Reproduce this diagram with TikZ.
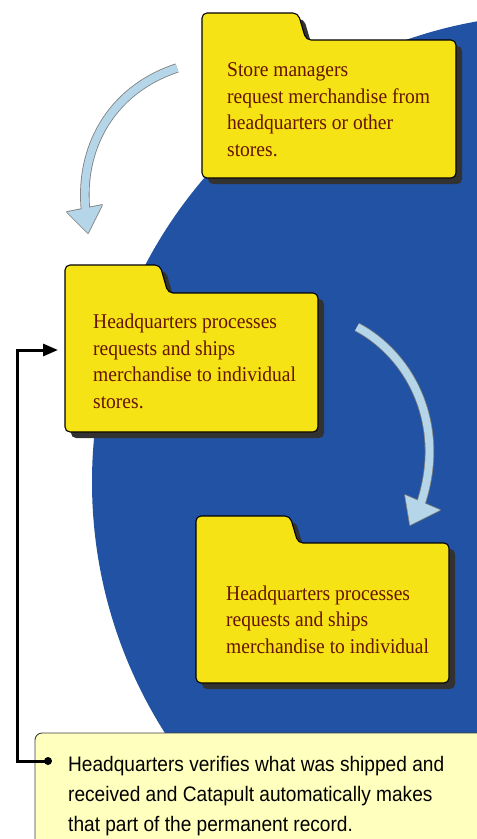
\documentclass[tikz,border=0pt]{standalone}
\usepackage{fontspec}
\newfontfamily\folderfont[FakeStretch=0.93]{Liberation Serif}
\newfontfamily\notefont[FakeStretch=0.91]{Liberation Sans}
\usetikzlibrary{arrows.meta}
\definecolor{bigblue}{RGB}{33,82,163}
\definecolor{folderyellow}{RGB}{246,227,22}
\definecolor{foldertext}{RGB}{100,20,0}
\definecolor{noteyellow}{RGB}{255,255,190}
\definecolor{arrowblue}{RGB}{180,214,232}
\definecolor{arrowedge}{RGB}{125,125,125}
\definecolor{shadowgray}{RGB}{50,50,50}
\tikzset{
  folderbox/.style={fill=folderyellow, draw=black, line width=1.1pt, rounded corners=5pt},
  foldershadow/.style={fill=shadowgray, rounded corners=5pt, xshift=6pt, yshift=-6pt},
  foldertxt/.style={font=\folderfont\fontsize{21}{26.4}\selectfont, text=foldertext, align=left, inner sep=0pt, anchor=base west},
  notetxt/.style={font=\notefont\fontsize{21}{30}\selectfont, text=black, align=left, inner sep=0pt, anchor=base west},
  conn/.style={draw=black, line width=3pt, -{Triangle[length=15pt,width=12pt]}},
  shaftouter/.style={draw=arrowedge, line width=9.4pt},
  shaftinner/.style={draw=arrowblue, line width=7.8pt},
}
\newcommand\drawfolder[6]{%
  \fill[foldershadow] (#1,#6) -- (#1,#2) -- (#3,#2) -- ({#3+8},#4) -- (#5,#4) -- (#5,#6) -- cycle;
  \path[folderbox] (#1,#6) -- (#1,#2) -- (#3,#2) -- ({#3+8},#4) -- (#5,#4) -- (#5,#6) -- cycle;
}
\begin{document}
\begin{tikzpicture}[x=1pt, y=-1pt]
\clip (0,0) rectangle (477,839);
\fill[white] (0,0) rectangle (477,839);
% big blue disc
\fill[bigblue] (560,482) circle[radius=468];

% folders
\drawfolder{202}{13}{298}{40}{456}{178}
\drawfolder{65}{265}{160}{293}{318}{432}
\drawfolder{196}{516}{290}{543}{449}{683}

% texts (anchor = baseline of the last line)
\node[foldertxt] (t1) at (227,156) {Store managers\\request merchandise from\\headquarters or other\\stores.};
\node[foldertxt] (t2) at (93,408) {Headquarters processes\\requests and ships\\merchandise to individual\\stores.};
\node[foldertxt] (t3) at (226,653) {Headquarters processes\\requests and ships\\merchandise to individual};

% curved arrows
\coordinate (a1s) at (177,68);
\coordinate (a1e) at (86,214);
\coordinate (a2s) at (357,327);
\coordinate (a2e) at (420,506);
\draw[shaftouter] (a1s) .. controls (110,90) and (78,150) .. (a1e);
\draw[shaftouter] (a2s) .. controls (410,355) and (448,425) .. (a2e);
\filldraw[fill=arrowblue, draw=arrowedge, line width=1.6pt, line join=round] (67,212) -- (88,233) -- (102,205) -- cycle;
\filldraw[fill=arrowblue, draw=arrowedge, line width=1.6pt, line join=round] (405,495) -- (410,525) -- (440,510) -- cycle;
\draw[shaftinner] (a1s) .. controls (110,90) and (78,150) .. (a1e);
\draw[shaftinner] (a2s) .. controls (410,355) and (448,425) .. (a2e);
\fill[arrowblue] (67,212) -- (88,233) -- (102,205) -- cycle;
\fill[arrowblue] (405,495) -- (410,525) -- (440,510) -- cycle;

% note box
\draw[fill=noteyellow, draw=black!75, line width=0.9pt, rounded corners=7pt] (35,860) -- (35,733) -- (500,733) -- (500,860);
\node[notetxt] (note) at (68,831) {Headquarters verifies what was shipped and\\received and Catapult automatically makes\\that part of the permanent record.};

% connector
\node[circle, fill=black, inner sep=0pt, minimum size=8pt] (bullet) at (48,761) {};
\coordinate (bend) at (17,761);
\coordinate (in2) at (58,350);
\draw[conn] (bullet.center) -- (bend) |- (in2);
\end{tikzpicture}
\end{document}
